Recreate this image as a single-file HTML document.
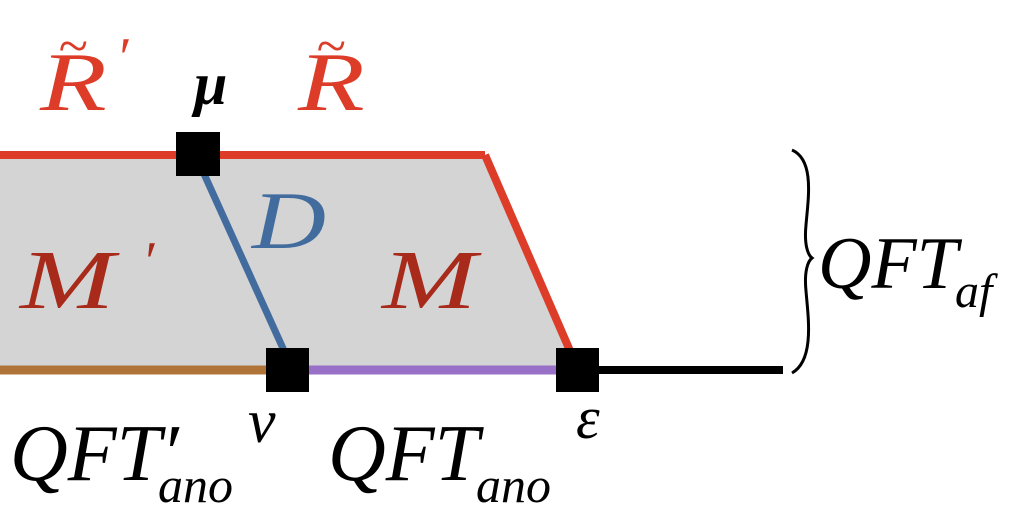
<!DOCTYPE html>
<html><head><style>body{margin:0;background:#fff}svg{display:block}</style></head>
<body>
<svg width="1017" height="512" viewBox="0 0 1017 512" xmlns="http://www.w3.org/2000/svg">
<polygon points="0,155 485,155 574,366 0,366" fill="#d4d4d4"/>
<line x1="0" y1="155" x2="485" y2="155" stroke="#dc3c28" stroke-width="8"/>
<line x1="485" y1="155" x2="574" y2="360" stroke="#dc3c28" stroke-width="8"/>
<line x1="0" y1="370" x2="280" y2="370" stroke="#b07438" stroke-width="9"/>
<line x1="290" y1="370" x2="570" y2="370" stroke="#9870c8" stroke-width="9"/>
<line x1="580" y1="370" x2="783" y2="370" stroke="#000" stroke-width="8"/>
<line x1="200" y1="165" x2="286" y2="355" stroke="#426c9e" stroke-width="7"/>
<rect x="176" y="132" width="44" height="44" fill="#000"/>
<rect x="266" y="348" width="43" height="44" fill="#000"/>
<rect x="556" y="348" width="43" height="44" fill="#000"/>
<path d="M792,150 C815,160 808,200 806,225 C804,245 808,255 812,258 C808,261 804,271 806,291 C808,316 815,360 792,373" fill="none" stroke="#000" stroke-width="3"/>
<g font-family="Liberation Serif, serif" font-style="italic">
<text x="0" y="0" font-size="84" fill="#dc3c28" transform="translate(40,110) scale(1.3,1)">R</text>
<text x="58" y="64" font-size="54" fill="#dc3c28">~</text>
<text x="116" y="76" font-size="56" fill="#dc3c28">′</text>
<text x="0" y="0" font-size="84" fill="#dc3c28" transform="translate(298,110) scale(1.3,1)">R</text>
<text x="316" y="64" font-size="54" fill="#dc3c28">~</text>
<text x="194" y="104" font-size="60" font-weight="bold" fill="#000">μ</text>
<text x="0" y="0" font-size="82" fill="#426c9e" transform="translate(252,248) scale(1.25,1)">D</text>
<text x="0" y="0" font-size="84" fill="#a82a1a" transform="translate(20,308) scale(1.35,1)">M</text>
<text x="142" y="280" font-size="56" fill="#a82a1a">′</text>
<text x="0" y="0" font-size="84" fill="#a82a1a" transform="translate(382,308) scale(1.35,1)">M</text>
<text x="818" y="288" font-size="74" fill="#000">QFT</text>
<text x="955" y="307" font-size="48" fill="#000">af</text>
<text x="10" y="480" font-size="80" fill="#000">QFT′</text>
<text x="158" y="502" font-size="50" fill="#000">ano</text>
<text x="248" y="442" font-size="62" fill="#000">ν</text>
<text x="328" y="480" font-size="80" fill="#000">QFT</text>
<text x="476" y="502" font-size="50" fill="#000">ano</text>
<text x="576" y="438" font-size="60" fill="#000">ε</text>
</g>
</svg>
</body></html>
